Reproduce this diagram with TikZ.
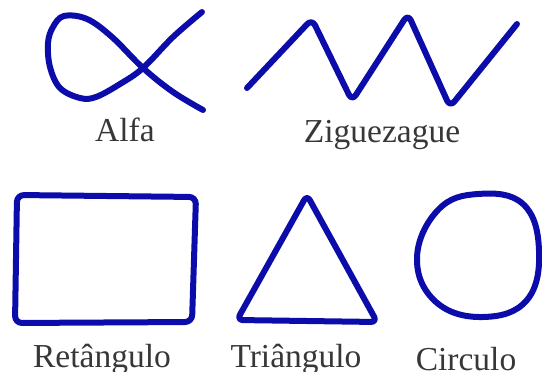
\documentclass[tikz,border=0pt]{standalone}
\usepackage{fontspec}
\setmainfont{Liberation Serif}
\usepackage{tikz}
\definecolor{azul}{RGB}{12,12,170}
\definecolor{cinza}{RGB}{55,55,55}

\begin{document}
\begin{tikzpicture}[x=1pt,y=-1pt,
  traco/.style={draw=azul,line width=6pt,line cap=round,line join=round},
  rotulo/.style={anchor=base,inner sep=0pt,text=cinza,font=\fontsize{33.5}{36}\selectfont}]
\useasboundingbox (0,0) rectangle (542,372);
% alfa
\draw[traco] plot[smooth,tension=0.6] coordinates {(202,12) (173,37) (143,68) (120,84) (96,97) (80,98)
  (60,88) (50,67) (48,43) (53,27) (64,16) (87,19) (112,37) (143,68) (173,92) (203,110)};
% ziguezague
\draw[traco,rounded corners=7pt] (247,88) -- (312,19) -- (352,101) -- (408,14) -- (450,107) -- (517,24);
% retangulo
\draw[traco,rounded corners=7pt] (17,195) -- (196,197) -- (192,322) -- (15,323) -- cycle;
% triangulo
\draw[traco,rounded corners=6pt] (307,195) -- (377,322) -- (237,320) -- cycle;
% circulo
\draw[traco] plot[smooth cycle,tension=0.7] coordinates {(417,258) (438,210) (478,194) (523,204)
  (539,250) (527,300) (483,317) (436,302)};
\node[rotulo] (alfa) at (125,141) {Alfa};
\node[rotulo] (zigue) at (382,142) {Ziguezague};
\node[rotulo] (ret) at (102,367) {Retângulo};
\node[rotulo] (tri) at (296,367) {Triângulo};
\node[rotulo] (circ) at (466,370) {Circulo};
\end{tikzpicture}
\end{document}
